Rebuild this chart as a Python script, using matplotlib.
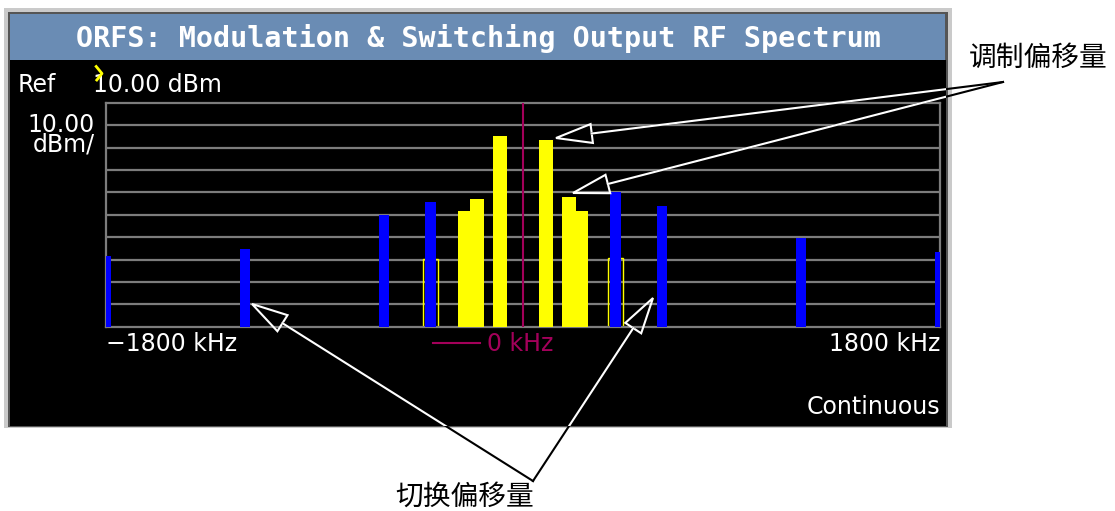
import matplotlib
matplotlib.use('Agg')
import matplotlib.pyplot as plt
from matplotlib.patches import Rectangle, Polygon
import numpy as np

W, H = 1115, 511

# modulation offsets (yellow): offset kHz, level dBm
mod_offsets = [-250, -200, -100, 100, 200, 250]
mod_levels = [-38.2, -33.1, -4.9, -6.8, -32.1, -38.2]
# modulation results at +-400 kHz, drawn hollow under the switching bars
mod_hollow_offsets = [-400, 400]
mod_hollow_levels = [-59.6, -59.5]
# switching offsets (blue)
sw_offsets = [-1800, -1200, -600, -400, 400, 600, 1200, 1800]
sw_levels = [-58.5, -55.4, -40.1, -34.2, -30.0, -36.1, -50.3, -56.5]

ref_level = 10.0   # dBm, top of screen
db_per_div = 10.0
n_div = 10
span = 1800        # kHz each side

title = 'ORFS: Modulation & Switching Output RF Spectrum'
label_mod = '调制偏移量'
label_sw = '切换偏移量'

GRID = '#7c7c7c'
MAGENTA = '#a3005a'
BLUE = '#0000ff'
YELLOW = '#ffff00'

fig = plt.figure(figsize=(W / 100, H / 100), dpi=100)
fig.patch.set_facecolor('white')

# instrument screen frame (pixel coordinates)
bg = fig.add_axes([0, 0, 1, 1], zorder=0)
bg.set_xlim(0, W)
bg.set_ylim(H, 0)
bg.axis('off')
bg.add_patch(Rectangle((4, 8), 948, 420, fc='#cacaca', ec='none'))
bg.add_patch(Rectangle((8, 12), 940, 415, fc='#555555', ec='none'))
bg.add_patch(Rectangle((10, 14), 935, 46, fc='#6a8cb4', ec='none'))
bg.add_patch(Rectangle((10, 60), 936, 366, fc='black', ec='none'))

# spectrum plot
x0, x1, y0, y1 = 106, 940, 102.7, 326.7
ax = fig.add_axes([x0 / W, 1 - y1 / H, (x1 - x0) / W, (y1 - y0) / H], zorder=1)
ax.set_facecolor('black')
ax.set_xlim(-span, span)
bottom = ref_level - n_div * db_per_div
ax.set_ylim(bottom, ref_level)
ax.set_xticks([])
ax.set_yticks([])
for s in ax.spines.values():
    s.set_color(GRID)
    s.set_linewidth(1.6)
for k in range(1, n_div):
    ax.axhline(bottom + k * db_per_div, color=GRID, lw=1.6, zorder=1)

ax.bar(mod_hollow_offsets, np.array(mod_hollow_levels) - bottom, bottom=bottom,
       width=62, fill=False, edgecolor=YELLOW, linewidth=1.0, zorder=2)
ax.bar(mod_offsets, np.array(mod_levels) - bottom, bottom=bottom,
       width=60, color=YELLOW, zorder=3)
ax.bar(sw_offsets, np.array(sw_levels) - bottom, bottom=bottom,
       width=47, color=BLUE, zorder=4)
ax.axvline(0, color=MAGENTA, lw=1.5, zorder=5)

# texts and arrows on top
top = fig.add_axes([0, 0, 1, 1], zorder=2)
top.set_xlim(0, W)
top.set_ylim(H, 0)
top.axis('off')
top.patch.set_alpha(0)

mono_b = dict(family='DejaVu Sans Mono', weight='bold')
sans = dict(family='DejaVu Sans')
top.text(478, 46.7, title, color='white', fontsize=20.4, ha='center', va='baseline', **mono_b)
top.text(18, 92.5, 'Ref', color='white', fontsize=17, ha='left', va='baseline', **sans)
top.text(93, 92.5, '10.00 dBm', color='white', fontsize=17, ha='left', va='baseline', **sans)
top.plot([96.2, 102, 96.8], [66.5, 73.5, 80], color=YELLOW, lw=2, zorder=6)
top.text(95, 131.5, '10.00', color='white', fontsize=17, ha='right', va='baseline', **sans)
top.text(95, 152, 'dBm/', color='white', fontsize=17, ha='right', va='baseline', **sans)
top.text(106, 351, '\u22121800 kHz', color='white', fontsize=17, ha='left', va='baseline', **sans)
top.text(940, 351, '1800 kHz', color='white', fontsize=17, ha='right', va='baseline', **sans)
top.plot([433, 480], [342.7, 342.7], color=MAGENTA, lw=1.5)
top.text(487, 351, '0 kHz', color=MAGENTA, fontsize=17, ha='left', va='baseline', **sans)
top.text(940, 414, 'Continuous', color='white', fontsize=17, ha='right', va='baseline', **sans)

cjk = ['Noto Sans CJK SC', 'DejaVu Sans']
top.text(969, 66, label_mod, color='black', fontsize=20, ha='left', va='baseline', family=cjk)
top.text(465, 505, label_sw, color='black', fontsize=20, ha='center', va='baseline', family=cjk)

screen = Rectangle((10, 60), 936, 366, transform=top.transData)
HEAD_LEN, HEAD_W = 36, 19


def arrow(tail, tip):
    tail = np.array(tail, float)
    tip = np.array(tip, float)
    d = tail - tip
    u = d / np.hypot(*d)
    n = np.array([-u[1], u[0]])
    base = tip + u * HEAD_LEN
    # black on the white page, white on the black screen
    top.plot([base[0], tail[0]], [base[1], tail[1]], color='black', lw=1.5)
    ln, = top.plot([base[0], tail[0]], [base[1], tail[1]], color='white', lw=1.5)
    ln.set_clip_path(screen)
    top.add_patch(Polygon([tip, base + n * HEAD_W / 2, base - n * HEAD_W / 2],
                          closed=True, fill=False, ec='white', lw=1.5))


arrow((1003, 82), (556, 138))
arrow((1003, 82), (573, 193))
arrow((533, 481), (252, 304))
arrow((533, 481), (653, 298))

fig.savefig('out.png', dpi=100)
